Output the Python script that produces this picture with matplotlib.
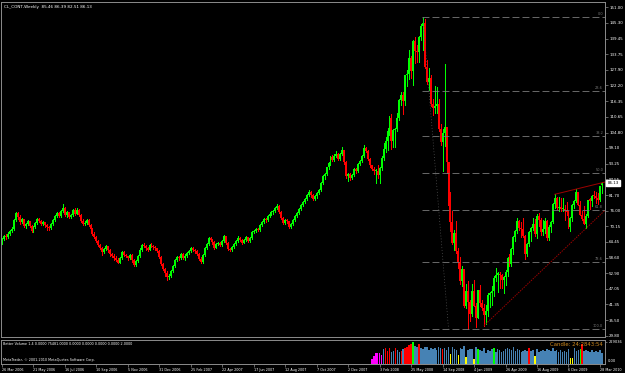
import matplotlib

matplotlib.use("Agg")

import matplotlib.pyplot as plt
import matplotlib.transforms as mtransforms
import numpy as np

W, H = 625, 373

TITLE = "CL_CONT,Weekly  85.46 86.39 82.51 86.13"
VOLUME_TITLE = "Better Volume 1.4 0.0000 75481.0000 0.0000 0.0000 0.0000 0.0000 2.0000"
COPYRIGHT = "MetaTrader, \u00a9 2001-2010 MetaQuotes Software Corp."
CANDLE_TIMER = "Candle: 24:2843:54"

# weekly candles (bar index = position on the chart)
opens = [
    64.3, 65.4, 66.6, 66.2, 67.4, 68.6, 69.3, 72.4, 75.2, 73.6,
    71.9, 72.8, 70.2, 71.0, 72.0, 70.4, 68.5, 69.9, 71.4, 72.8,
    72.3, 70.9, 71.6, 70.5, 69.9, 69.4, 70.9, 72.5, 73.9, 75.0,
    74.1, 75.8, 77.0, 74.2, 75.3, 73.7, 74.4, 76.1, 74.8, 76.3,
    74.4, 72.3, 71.1, 71.4, 72.5, 70.8, 69.2, 67.5, 66.3, 64.9,
    63.3, 62.2, 60.6, 61.9, 62.9, 61.3, 59.8, 59.2, 58.6, 57.9,
    56.8, 58.6, 60.8, 59.6, 59.1, 58.4, 59.6, 57.6, 55.8, 57.4,
    59.2, 61.6, 63.4, 62.9, 62.0, 61.6, 63.4, 63.0, 62.4, 62.0,
    61.1, 58.9, 56.3, 54.4, 53.0, 51.3, 52.0, 53.7, 55.4, 57.6,
    59.0, 58.6, 59.9, 58.5, 59.4, 60.3, 61.1, 62.2, 61.6, 61.0,
    60.1, 58.3, 57.1, 59.6, 62.3, 63.8, 65.9, 65.0, 64.3, 62.3,
    63.6, 64.0, 63.4, 64.7, 66.5, 64.1, 61.9, 61.4, 62.4, 63.8,
    64.9, 66.0, 65.2, 64.2, 65.1, 66.1, 64.8, 66.0, 68.0, 68.6,
    69.2, 68.9, 70.7, 71.9, 72.8, 72.6, 73.9, 74.9, 75.6, 75.8,
    77.0, 77.8, 75.5, 73.4, 71.5, 72.6, 72.0, 70.0, 71.1, 72.4,
    74.0, 75.2, 76.7, 78.0, 79.1, 80.2, 81.6, 82.8, 81.7, 80.2,
    81.2, 82.4, 83.7, 86.3, 88.6, 89.5, 91.9, 93.4, 95.9, 94.8,
    96.3, 97.0, 95.1, 96.9, 98.2, 93.8, 88.7, 89.6, 87.9, 89.1,
    91.3, 90.7, 93.3, 94.4, 96.0, 99.2, 97.9, 95.1, 92.7, 91.3,
    90.6, 90.7, 89.0, 91.8, 95.5, 98.8, 101.8, 105.2, 110.2, 101.8,
    105.6, 106.2, 110.1, 116.7, 118.5, 116.3, 126.0, 126.3, 132.2, 127.4,
    138.5, 134.9, 134.6, 140.2, 144.3, 145.1, 128.9, 123.3, 125.1, 115.2,
    113.8, 114.6, 115.5, 106.2, 101.2, 104.6, 106.9, 93.9, 77.7, 71.9,
    64.2, 67.8, 61.0, 57.0, 49.9, 54.4, 40.8, 46.3, 42.4, 37.7,
    46.3, 40.8, 36.5, 46.5, 41.7, 40.2, 37.5, 38.9, 44.8, 45.5,
    46.3, 51.1, 52.4, 52.5, 52.2, 50.3, 51.6, 53.2, 58.6, 56.3,
    61.7, 66.3, 68.4, 72.0, 69.6, 69.2, 66.7, 59.9, 63.6, 68.1,
    69.5, 70.9, 67.5, 73.9, 72.7, 68.0, 69.3, 72.0, 66.0, 70.0,
    71.8, 78.5, 80.5, 77.0, 77.4, 76.4, 76.7, 76.1, 75.5, 69.9,
    73.4, 78.1, 79.4, 82.8, 78.0, 74.5, 72.9, 71.2, 74.1, 79.8,
    79.7, 81.5, 81.2, 80.7, 80.0, 85.46,
]
highs = [
    65.8, 67.0, 67.2, 68.0, 69.0, 69.9, 72.8, 75.4, 75.3, 74.2,
    73.3, 73.0, 71.5, 72.6, 72.3, 70.8, 70.4, 71.8, 73.2, 73.1,
    72.6, 72.0, 71.8, 70.9, 70.2, 71.3, 72.9, 74.2, 75.4, 75.3,
    76.2, 78.4, 77.2, 75.8, 75.6, 74.9, 76.6, 77.0, 76.9, 76.6,
    74.6, 72.9, 72.0, 73.0, 72.8, 71.2, 69.6, 68.0, 66.6, 65.3,
    63.7, 62.6, 62.3, 63.3, 63.1, 61.7, 60.3, 60.0, 59.3, 58.4,
    59.0, 61.2, 61.0, 60.1, 59.4, 60.0, 59.9, 58.0, 57.9, 59.6,
    62.0, 63.8, 63.9, 63.2, 62.4, 63.8, 64.0, 63.3, 62.9, 62.3,
    61.3, 59.2, 56.6, 54.8, 53.6, 52.5, 54.2, 55.9, 58.0, 59.3,
    59.4, 60.3, 60.2, 59.8, 60.7, 61.5, 62.6, 62.4, 61.9, 61.4,
    60.4, 58.7, 60.0, 62.6, 64.2, 66.3, 66.2, 65.4, 64.6, 64.0,
    64.5, 64.3, 65.1, 66.8, 66.7, 64.4, 62.3, 62.8, 64.2, 65.3,
    66.5, 66.3, 65.5, 65.5, 66.6, 66.4, 66.4, 68.4, 69.0, 69.6,
    69.6, 71.0, 72.3, 73.1, 73.3, 74.3, 75.3, 76.0, 76.2, 77.4,
    78.6, 78.1, 75.8, 73.8, 73.0, 72.9, 72.2, 71.5, 72.8, 74.4,
    75.6, 77.1, 78.4, 79.5, 80.6, 82.0, 83.5, 83.1, 82.0, 81.6,
    82.8, 84.1, 86.7, 89.0, 90.0, 92.2, 93.8, 96.2, 96.4, 96.7,
    98.0, 97.4, 97.3, 99.3, 98.5, 94.2, 90.0, 90.0, 89.5, 91.7,
    91.6, 93.7, 94.8, 96.4, 100.1, 99.6, 98.2, 95.5, 93.0, 92.0,
    91.5, 92.8, 92.0, 96.0, 101.0, 103.0, 106.5, 111.0, 111.8, 106.0,
    106.5, 112.2, 117.0, 119.9, 119.6, 126.2, 127.8, 135.1, 133.0, 139.1,
    139.9, 137.0, 140.4, 145.0, 147.3, 146.7, 131.5, 128.6, 126.0, 117.0,
    122.0, 121.6, 117.2, 108.0, 106.0, 130.0, 107.0, 94.0, 83.0, 76.0,
    69.0, 72.0, 62.0, 59.0, 55.5, 54.5, 48.8, 50.0, 42.9, 49.0,
    50.5, 42.0, 46.5, 48.6, 43.0, 41.5, 41.0, 45.5, 46.0, 48.0,
    52.0, 54.7, 53.5, 53.5, 52.5, 51.7, 54.0, 58.7, 60.0, 62.3,
    66.5, 69.0, 73.2, 72.5, 71.7, 73.4, 66.9, 63.9, 68.5, 69.9,
    73.4, 72.9, 74.7, 75.0, 73.2, 72.4, 73.4, 72.4, 70.7, 72.0,
    78.9, 82.0, 80.9, 81.0, 80.5, 80.5, 78.2, 79.0, 75.8, 73.5,
    78.5, 80.0, 83.95, 83.0, 79.7, 76.0, 77.8, 74.7, 80.0, 80.7,
    81.6, 83.2, 82.7, 82.5, 85.0, 86.39,
]
lows = [
    63.7, 65.0, 65.6, 65.9, 67.0, 68.2, 69.0, 72.0, 72.9, 71.2,
    71.5, 69.8, 69.6, 70.6, 70.0, 68.0, 68.2, 69.5, 71.0, 71.9,
    70.5, 70.6, 70.1, 68.8, 68.7, 69.1, 70.5, 72.1, 73.5, 73.6,
    73.8, 75.4, 73.9, 73.7, 73.3, 73.4, 74.0, 74.5, 74.6, 73.9,
    71.9, 70.7, 70.6, 71.0, 70.4, 68.7, 67.0, 65.8, 64.4, 62.9,
    61.8, 59.5, 60.2, 61.4, 60.8, 59.3, 58.7, 57.9, 57.4, 56.6,
    56.5, 58.2, 59.2, 58.7, 57.9, 58.1, 57.1, 55.4, 55.5, 57.0,
    58.9, 61.2, 62.4, 61.6, 61.0, 61.3, 62.6, 61.9, 61.6, 60.6,
    58.4, 55.9, 53.9, 51.9, 50.4, 50.9, 51.6, 53.3, 55.1, 57.2,
    57.9, 58.2, 58.0, 57.8, 59.0, 59.8, 60.7, 61.0, 60.4, 59.6,
    57.8, 56.6, 56.8, 59.2, 61.9, 63.4, 64.6, 63.8, 61.9, 62.0,
    63.2, 62.9, 63.0, 64.3, 63.6, 61.5, 60.9, 61.0, 62.0, 63.4,
    64.5, 64.8, 63.8, 63.9, 64.7, 64.4, 64.4, 65.6, 67.6, 68.2,
    68.3, 68.5, 70.3, 71.5, 71.9, 72.2, 73.5, 74.5, 74.8, 75.4,
    76.6, 75.1, 72.9, 71.0, 71.1, 71.5, 69.5, 69.6, 70.7, 72.0,
    73.6, 74.8, 76.3, 77.6, 78.7, 79.8, 81.2, 81.0, 79.8, 79.8,
    80.8, 82.0, 83.3, 85.9, 87.8, 89.0, 91.5, 93.0, 94.2, 94.4,
    95.9, 94.6, 94.7, 96.5, 93.2, 88.0, 87.0, 87.4, 87.5, 88.7,
    89.9, 90.3, 92.9, 94.0, 95.6, 97.5, 94.6, 92.2, 90.8, 89.6,
    86.1, 88.2, 86.1, 91.0, 94.5, 97.5, 98.5, 104.0, 98.6, 99.6,
    99.5, 105.5, 109.5, 115.0, 111.8, 115.0, 122.0, 124.5, 125.0, 122.3,
    130.4, 131.0, 131.0, 139.0, 135.1, 128.6, 122.9, 120.4, 114.6, 111.3,
    112.1, 112.0, 105.5, 100.2, 90.5, 100.0, 90.0, 77.0, 68.6, 63.6,
    61.3, 60.5, 54.7, 48.8, 48.0, 40.5, 40.2, 32.4, 35.4, 37.1,
    40.6, 33.2, 36.4, 40.6, 39.3, 33.5, 34.0, 37.2, 40.5, 41.1,
    44.5, 50.0, 46.0, 47.4, 47.6, 45.6, 48.5, 52.0, 55.5, 55.5,
    60.0, 64.8, 67.8, 68.7, 66.3, 66.4, 58.3, 59.3, 63.1, 64.6,
    69.0, 66.6, 65.9, 70.4, 67.0, 67.1, 67.8, 65.0, 65.1, 68.0,
    71.5, 77.0, 76.7, 76.0, 76.0, 76.0, 72.4, 74.5, 69.5, 68.6,
    72.0, 77.0, 79.0, 78.0, 74.5, 72.4, 71.2, 69.5, 73.5, 76.5,
    77.8, 80.6, 78.7, 78.3, 79.6, 82.51,
]
closes = [
    65.4, 66.6, 66.2, 67.4, 68.6, 69.3, 72.4, 75.2, 73.6, 71.9,
    72.8, 70.2, 71.0, 72.0, 70.4, 68.5, 69.9, 71.4, 72.8, 72.3,
    70.9, 71.6, 70.5, 69.9, 69.4, 70.9, 72.5, 73.9, 75.0, 74.1,
    75.8, 77.0, 74.2, 75.3, 73.7, 74.4, 76.1, 74.8, 76.3, 74.4,
    72.3, 71.1, 71.4, 72.5, 70.8, 69.2, 67.5, 66.3, 64.9, 63.3,
    62.2, 60.6, 61.9, 62.9, 61.3, 59.8, 59.2, 58.6, 57.9, 56.8,
    58.6, 60.8, 59.6, 59.1, 58.4, 59.6, 57.6, 55.8, 57.4, 59.2,
    61.6, 63.4, 62.9, 62.0, 61.6, 63.4, 63.0, 62.4, 62.0, 61.1,
    58.9, 56.3, 54.4, 53.0, 51.3, 52.0, 53.7, 55.4, 57.6, 59.0,
    58.6, 59.9, 58.5, 59.4, 60.3, 61.1, 62.2, 61.6, 61.0, 60.1,
    58.3, 57.1, 59.6, 62.3, 63.8, 65.9, 65.0, 64.3, 62.3, 63.6,
    64.0, 63.4, 64.7, 66.5, 64.1, 61.9, 61.4, 62.4, 63.8, 64.9,
    66.0, 65.2, 64.2, 65.1, 66.1, 64.8, 66.0, 68.0, 68.6, 69.2,
    68.9, 70.7, 71.9, 72.8, 72.6, 73.9, 74.9, 75.6, 75.8, 77.0,
    77.8, 75.5, 73.4, 71.5, 72.6, 72.0, 70.0, 71.1, 72.4, 74.0,
    75.2, 76.7, 78.0, 79.1, 80.2, 81.6, 82.8, 81.7, 80.2, 81.2,
    82.4, 83.7, 86.3, 88.6, 89.5, 91.9, 93.4, 95.9, 94.8, 96.3,
    97.0, 95.1, 96.9, 98.2, 93.8, 88.7, 89.6, 87.9, 89.1, 91.3,
    90.7, 93.3, 94.4, 96.0, 99.2, 97.9, 95.1, 92.7, 91.3, 90.6,
    90.7, 89.0, 91.8, 95.5, 98.8, 101.8, 105.2, 110.2, 101.8, 105.6,
    106.2, 110.1, 116.7, 118.5, 116.3, 126.0, 126.3, 132.2, 127.4, 138.5,
    134.9, 134.6, 140.2, 144.3, 145.1, 128.9, 123.3, 125.1, 115.2, 113.8,
    114.6, 115.5, 106.2, 101.2, 104.6, 106.9, 93.9, 77.7, 71.9, 64.2,
    67.8, 61.0, 57.0, 49.9, 54.4, 40.8, 46.3, 42.4, 37.7, 46.3,
    40.8, 36.5, 46.5, 41.7, 40.2, 37.5, 38.9, 44.8, 45.5, 46.3,
    51.1, 52.4, 52.5, 52.2, 50.3, 51.6, 53.2, 58.6, 56.3, 61.7,
    66.3, 68.4, 72.0, 69.6, 69.2, 66.7, 59.9, 63.6, 68.1, 69.5,
    70.9, 67.5, 73.9, 72.7, 68.0, 69.3, 72.0, 66.0, 70.0, 71.8,
    78.5, 80.5, 77.0, 77.4, 76.4, 76.7, 76.1, 75.5, 69.9, 73.4,
    78.1, 79.4, 82.8, 78.0, 74.5, 72.9, 71.2, 74.1, 79.8, 79.7,
    81.5, 81.2, 80.7, 80.0, 84.9, 86.13,
]
last_price = 86.13

# Better Volume histogram (starts at bar 187)
volume_start = 187
volumes = [
    4000, 55000, 80000, 110000, 115000, 112000, 95000, 150000, 160000, 135000,
    165000, 120000, 130000, 160000, 140000, 125000, 135000, 150000, 165000, 175000,
    190000, 205000, 222000, 185000, 170000, 205000, 160000, 150000, 170000, 175000,
    145000, 160000, 150000, 165000, 140000, 175000, 160000, 150000, 165000, 140000,
    170000, 100000, 175000, 155000, 140000, 90000, 165000, 150000, 180000, 75000,
    140000, 150000, 155000, 55000, 170000, 150000, 140000, 135000, 160000, 110000,
    145000, 130000, 150000, 160000, 125000, 155000, 145000, 120000, 130000, 150000,
    160000, 150000, 140000, 170000, 135000, 150000, 140000, 125000, 135000, 145000,
    135000, 160000, 130000, 140000, 85000, 150000, 120000, 135000, 145000, 130000,
    155000, 140000, 130000, 165000, 130000, 140000, 125000, 145000, 120000, 130000,
    125000, 150000, 60000, 65000, 165000, 130000, 140000, 155000, 200000, 130000,
    145000, 135000, 125000, 140000, 120000, 130000, 125000, 140000, 115000,
]
volume_kind = (
    "mmmmmmmbrr" "rbbrbbrbrr" "rrgbbrbbbb" "bbbbbbbrbb" "bybbbybbby"
    "bbbybgbbbb" "bbbgbbbbbb" "bbbbbbbbbb" "brbbybbbbb" "bbbbbbbbbb"
    "bbyybbbgrb" "bbbbbbbbb"
)
volume_max = 229036

# Fibonacci retracement drawn from the July 2008 top to the December 2008 low
fib_high = 147.27
fib_low = 32.40
fib_levels = [0.0, 23.6, 38.2, 50.0, 61.8, 78.6, 100.0]
fib_start_bar = 214
fib_end_bar = 227

# trend lines (bar, price anchors)
lower_trend_bars = [245, 297]
lower_trend_prices = [33.5, 69.5]
upper_trend_bars = [281, 292]
upper_trend_prices = [82.0, 83.95]

price_ticks = [151.00, 145.30, 139.45, 133.75, 127.90, 122.20, 116.35, 110.65, 104.80, 99.10,
               93.25, 87.55, 81.70, 76.00, 70.15, 64.45, 58.60, 52.90, 47.05, 41.35, 35.50, 29.80]
date_labels = ["26 Mar 2006", "21 May 2006", "16 Jul 2006", "10 Sep 2006", "5 Nov 2006",
               "31 Dec 2006", "25 Feb 2007", "22 Apr 2007", "17 Jun 2007", "12 Aug 2007",
               "7 Oct 2007", "2 Dec 2007", "3 Feb 2008", "25 May 2008", "14 Sep 2008",
               "4 Jan 2009", "26 Apr 2009", "16 Aug 2009", "6 Dec 2009", "28 Mar 2010"]
bars_per_label = 16

BULL = "#00ff00"
BEAR = "#ff0000"
FRAME = "#8c8c8c"
FIB = "#7a7a7a"
TREND = "#a00000"
VOL_COLORS = {"b": "#4682b4", "r": "#ff0000", "g": "#00ff00", "y": "#ffff00", "m": "#ff00ff"}

BAR_PX = 1.967  # pixel distance between bars
FIRST_BAR_PX = 2.0


def px_axes(fig, x0, y0, x1, y1):
    return fig.add_axes([x0 / W, 1 - y1 / H, (x1 - x0) / W, (y1 - y0) / H])


def style_frame(ax):
    ax.set_facecolor("black")
    for spine in ax.spines.values():
        spine.set_color(FRAME)
        spine.set_linewidth(0.7)


def main() -> None:
    plt.rcParams["lines.scale_dashes"] = False
    fig = plt.figure(figsize=(W / 100, H / 100), dpi=100, facecolor="black")

    x_left = (1 - FIRST_BAR_PX) / BAR_PX
    x_right = (605 - FIRST_BAR_PX) / BAR_PX

    # price panel
    ax = px_axes(fig, 1, 2, 605, 337)
    style_frame(ax)
    o = np.array(opens)
    h = np.array(highs)
    l = np.array(lows)
    c = np.array(closes)
    idx = np.arange(len(c))
    up = c >= o
    colors = [BULL if u else BEAR for u in up]
    ax.vlines(idx, l, h, colors=colors, linewidth=0.72, antialiased=False)
    body_lo = np.minimum(o, c)
    body_h = np.maximum(np.abs(c - o), 0.4)
    ax.bar(idx, body_h, bottom=body_lo, width=1.0, color=colors, linewidth=0,
           antialiased=False)

    # fibonacci
    span = fib_high - fib_low
    for lev in fib_levels:
        p = fib_high - span * lev / 100.0
        ax.hlines(p, fib_start_bar - 0.5, x_right, colors=FIB, linewidth=0.6,
                  linestyles=(0, (5, 2.2)))
        ax.text(305.6, p + 0.4, f"{lev:.1f}", color=FIB, fontsize=2.5,
                ha="right", va="bottom")
    ax.plot([fib_start_bar, fib_end_bar], [fib_high, fib_low], color="#555555",
            linewidth=0.5, linestyle=(0, (0.7, 1.4)))

    # trend lines
    slope = (lower_trend_prices[1] - lower_trend_prices[0]) / (lower_trend_bars[1] - lower_trend_bars[0])
    ax.plot([lower_trend_bars[0], x_right],
            [lower_trend_prices[0], lower_trend_prices[0] + slope * (x_right - lower_trend_bars[0])],
            color=TREND, linewidth=0.7, linestyle=(0, (1.0, 0.8)))
    slope = (upper_trend_prices[1] - upper_trend_prices[0]) / (upper_trend_bars[1] - upper_trend_bars[0])
    ax.plot([upper_trend_bars[0], x_right],
            [upper_trend_prices[0], upper_trend_prices[0] + slope * (x_right - upper_trend_bars[0])],
            color=TREND, linewidth=0.7)

    ax.set_xlim(x_left, x_right)
    ax.set_ylim(29.33, 152.99)
    ax.set_xticks([])
    ax.yaxis.tick_right()
    ax.set_yticks(price_ticks)
    ax.set_yticklabels([f"{p:.2f}" for p in price_ticks])
    ax.tick_params(axis="y", colors=FRAME, labelcolor="white", labelsize=2.9,
                   length=1.8, width=0.5, pad=1.2)

    trans = mtransforms.blended_transform_factory(ax.transAxes, ax.transData)
    ax.text(1.004, last_price, f"{last_price:.2f}", transform=trans, color="black",
            fontsize=2.9, ha="left", va="center",
            bbox=dict(boxstyle="square,pad=0.25", facecolor="white", edgecolor="white"))

    # volume panel
    vax = px_axes(fig, 1, 340, 605, 364)
    style_frame(vax)
    vidx = np.arange(volume_start, volume_start + len(volumes))
    vcol = [VOL_COLORS[k] for k in volume_kind]
    vax.bar(vidx, volumes, width=0.8, color=vcol, linewidth=0, antialiased=False)
    vax.set_xlim(x_left, x_right)
    vax.set_ylim(0, volume_max * 23 / 21.5)
    vax.yaxis.tick_right()
    vax.set_yticks([volume_max])
    vax.set_yticklabels([str(volume_max)])
    vax.tick_params(axis="y", colors=FRAME, labelcolor="white", labelsize=2.6,
                    length=1.5, width=0.5, pad=1.2)
    vax.text(1.004, 0.05, "0.00", transform=vax.transAxes, color="white",
             fontsize=2.6, ha="left", va="bottom")

    tick_pos = np.arange(len(date_labels)) * bars_per_label
    vax.set_xticks(tick_pos)
    vax.set_xticklabels(date_labels)
    vax.tick_params(axis="x", colors=FRAME, labelcolor="white", labelsize=2.4,
                    length=1.8, width=0.5, pad=0.8)
    for lbl in vax.get_xticklabels():
        lbl.set_ha("left")

    fig.text(4 / W, 1 - 7 / H, TITLE, color="white", fontsize=3.0, ha="left", va="center")
    fig.text(3 / W, 1 - 344 / H, VOLUME_TITLE, color="white", fontsize=2.4, ha="left", va="center")
    fig.text(3 / W, 1 - 360 / H, COPYRIGHT, color="white", fontsize=2.4, ha="left", va="center")
    fig.text(603 / W, 1 - 345 / H, CANDLE_TIMER, color="#d08a1e", fontsize=3.9,
             ha="right", va="center")

    fig.savefig("out.png", dpi=100, facecolor="black")
    plt.close(fig)


if __name__ == "__main__":
    main()
